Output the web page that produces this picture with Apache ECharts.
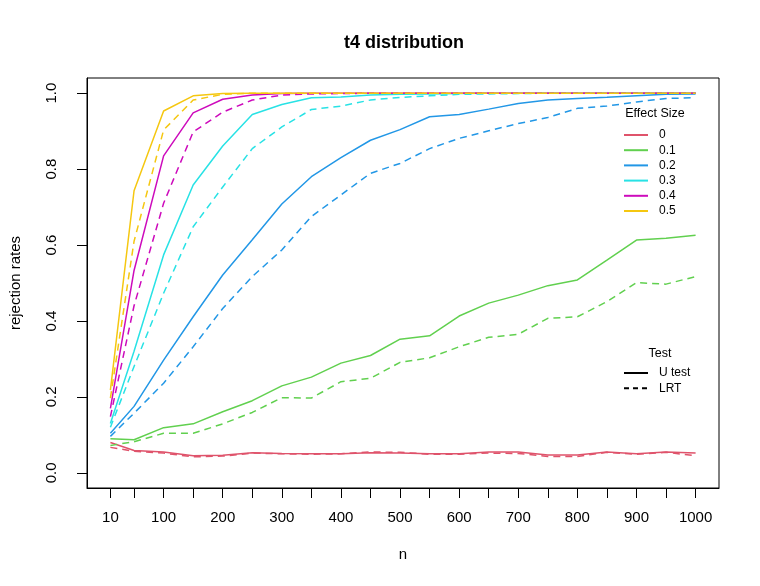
<!DOCTYPE html>
<html>
<head>
<meta charset="utf-8">
<script src="https://cdn.jsdelivr.net/npm/echarts@6/dist/echarts.min.js"></script>
<style>html,body{margin:0;padding:0;background:#fff}#c{width:760px;height:586px}</style>
</head>
<body>
<div id="c"></div>
<script>
var nValues = [10,50,100,150,200,250,300,350,400,450,500,550,600,650,700,750,800,850,900,950,1000];
var xTickValues = [10,50,100,150,200,250,300,350,400,450,500,550,600,650,700,750,800,850,900,950,1000];
var xLabelValues = [10,100,200,300,400,500,600,700,800,900,1000];
var yTickValues = [0,0.2,0.4,0.6,0.8,1.0];
var effectLabels = ['0','0.1','0.2','0.3','0.4','0.5'];
var testLabels = ['U test','LRT'];
var effectColors = ['#DF536B','#61D04F','#2297E6','#28E2E5','#CD0BBC','#F5C710'];

var es00U = [0.080,0.059,0.055,0.045,0.046,0.053,0.051,0.050,0.050,0.053,0.052,0.050,0.050,0.055,0.055,0.047,0.047,0.055,0.050,0.055,0.052];
var es00L = [0.067,0.057,0.052,0.042,0.044,0.052,0.050,0.049,0.050,0.055,0.054,0.049,0.049,0.052,0.051,0.043,0.043,0.054,0.049,0.054,0.045];
var es01U = [0.090,0.087,0.119,0.129,0.161,0.190,0.229,0.252,0.289,0.309,0.352,0.361,0.413,0.447,0.468,0.493,0.508,0.560,0.613,0.618,0.626];
var es01L = [0.072,0.082,0.104,0.104,0.129,0.159,0.198,0.197,0.240,0.249,0.291,0.303,0.332,0.357,0.365,0.407,0.411,0.451,0.501,0.497,0.517];
var es02U = [0.104,0.175,0.297,0.411,0.521,0.614,0.708,0.780,0.830,0.876,0.904,0.938,0.944,0.958,0.973,0.982,0.986,0.989,0.993,0.997,0.998];
var es02L = [0.096,0.157,0.236,0.332,0.433,0.517,0.587,0.675,0.732,0.789,0.815,0.854,0.881,0.901,0.920,0.936,0.960,0.966,0.977,0.986,0.988];
var es03U = [0.130,0.320,0.574,0.758,0.861,0.944,0.970,0.988,0.990,0.995,0.997,0.998,0.999,1.000,1.000,1.000,1.000,1.000,1.000,1.000,1.000];
var es03L = [0.120,0.280,0.473,0.648,0.753,0.854,0.911,0.957,0.966,0.982,0.989,0.993,0.997,0.998,0.999,1.000,1.000,1.000,1.000,1.000,1.000];
var es04U = [0.170,0.533,0.835,0.948,0.984,0.995,0.999,1.000,1.000,1.000,1.000,1.000,1.000,1.000,1.000,1.000,1.000,1.000,1.000,1.000,1.000];
var es04L = [0.148,0.440,0.710,0.898,0.950,0.982,0.995,0.998,0.999,1.000,1.000,1.000,1.000,1.000,1.000,1.000,1.000,1.000,1.000,1.000,1.000];
var es05U = [0.218,0.743,0.953,0.993,0.999,1.000,1.000,1.000,1.000,1.000,1.000,1.000,1.000,1.000,1.000,1.000,1.000,1.000,1.000,1.000,1.000];
var es05L = [0.197,0.610,0.903,0.982,0.997,1.000,1.000,1.000,1.000,1.000,1.000,1.000,1.000,1.000,1.000,1.000,1.000,1.000,1.000,1.000,1.000];

var uSeries = [es00U, es01U, es02U, es03U, es04U, es05U];
var lSeries = [es00L, es01L, es02L, es03L, es04L, es05L];

var FONT = "'Liberation Sans', Arial, Helvetica, sans-serif";
function pairs(vals){ return nValues.map(function(n,i){ return [n, vals[i]]; }); }

var series = [];
for (var i = 0; i < effectLabels.length; i++) {
  series.push({ type:'line', name: effectLabels[i], data: pairs(uSeries[i]), symbol:'none', showSymbol:false,
    color: effectColors[i], lineStyle:{ color: effectColors[i], width:1.5, type:'solid' }, animation:false, z:2 });
}
for (var j = 0; j < effectLabels.length; j++) {
  series.push({ type:'line', name: effectLabels[j], data: pairs(lSeries[j]), symbol:'none', showSymbol:false,
    color: effectColors[j], lineStyle:{ color: effectColors[j], width:1.5, type:[7,5] }, animation:false, z:2 });
}
series.push({ type:'line', name:'U test', data:[], symbol:'none', showSymbol:false, color:'#000', lineStyle:{color:'#000', width:1, type:'solid'} });
series.push({ type:'line', name:'LRT', data:[], symbol:'none', showSymbol:false, color:'#000', lineStyle:{color:'#000', width:1, type:[5,4]} });

var legendCommon = { orient:'vertical', itemWidth:24, itemHeight:10, itemGap:3.2, padding:0, selectedMode:false,
  itemStyle:{ opacity:0 }, textStyle:{ fontFamily:FONT, fontSize:12, color:'#000', padding:[0,0,0,6] } };

var chart = echarts.init(document.getElementById('c'), null, {renderer:'canvas'});
chart.setOption({
  backgroundColor:'#fff',
  animation:false,
  textStyle:{ fontFamily: FONT, color:'#000' },
  title:[
    { text:'t4 distribution', left:399, top:29, textAlign:'center',
      textStyle:{ fontFamily:FONT, fontSize:18, fontWeight:'bold', color:'#000' } },
    { text:'Effect Size', left:650, top:102, textAlign:'center',
      textStyle:{ fontFamily:FONT, fontSize:12.5, fontWeight:'normal', color:'#000' } },
    { text:'Test', left:655, top:342, textAlign:'center',
      textStyle:{ fontFamily:FONT, fontSize:12.5, fontWeight:'normal', color:'#000' } }
  ],
  legend:[
    Object.assign({ id:'lgEffect', data: effectLabels, left:623, top:129 }, legendCommon),
    Object.assign({ id:'lgTest', data: testLabels, left:623, top:367 }, legendCommon)
  ],
  grid:{ left:79, right:41, top:78, bottom:98, show:true, borderColor:'#000', borderWidth:1, containLabel:false },
  xAxis:{
    type:'value', min:-29.6, max:1039.6,
    name:'n', nameLocation:'middle', nameGap:59,
    nameTextStyle:{ fontFamily:FONT, fontSize:15, color:'#000' },
    axisLine:{ show:true, onZero:false, lineStyle:{ color:'#000', width:1 } },
    axisTick:{ show:true, length:10, customValues: xTickValues, lineStyle:{ color:'#000', width:1 } },
    axisLabel:{ customValues: xLabelValues, margin:22, fontFamily:FONT, fontSize:15, color:'#000',
      formatter:function(v){ return String(Math.round(v)); } },
    splitLine:{ show:false }
  },
  yAxis:{
    type:'value', min:-0.04, max:1.04,
    name:'rejection rates', nameLocation:'middle', nameGap:64,
    nameTextStyle:{ fontFamily:FONT, fontSize:15, color:'#000' },
    axisLine:{ show:true, onZero:false, lineStyle:{ color:'#000', width:1 } },
    axisTick:{ show:true, length:10, customValues: yTickValues, lineStyle:{ color:'#000', width:1 } },
    axisLabel:{ customValues: yTickValues, rotate:90, margin:28, fontFamily:FONT, fontSize:15, color:'#000',
      formatter:function(v){ return v.toFixed(1); } },
    splitLine:{ show:false }
  },
  series: series
});
</script>
</body>
</html>
